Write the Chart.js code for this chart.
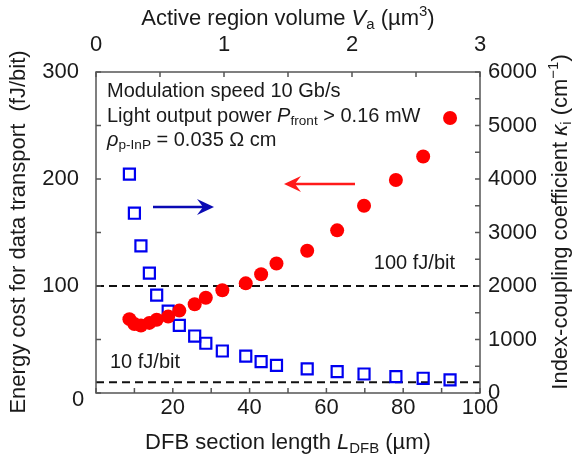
<!DOCTYPE html>
<html>
<head>
<meta charset="utf-8">
<script src="https://cdn.jsdelivr.net/npm/chart.js@4/dist/chart.umd.min.js"></script>
<style>
  html, body { margin: 0; padding: 0; background: #fff; }
</style>
</head>
<body>
<canvas id="chart" width="578" height="461"></canvas>
<script>
// DFB section length (um) for each device
var lengthDFB = [8.7, 10.0, 11.7, 13.9, 15.8, 18.8, 21.7, 25.7, 28.6, 32.9, 39.0, 43.0, 47.0, 55.0, 62.8, 69.8, 78.1, 85.2, 92.2];
// energy cost for data transport (fJ/bit), left axis
var energyCost = [69, 64.5, 63, 65.5, 68.5, 71.5, 77, 83, 89, 96, 102.5, 111, 121, 133, 152, 175, 199, 221, 257];
// index-coupling coefficient (cm^-1), right axis
var kappa = [4090, 3360, 2750, 2240, 1830, 1530, 1265, 1065, 930, 785, 690, 585, 515, 450, 400, 355, 305, 275, 245];
// reference energy levels (fJ/bit)
var refLevels = [100, 10];
var refNames = ['100 fJ/bit', '10 fJ/bit'];

var FONT = 'Arial, "Liberation Sans", sans-serif';
var INK = '#1a1a1a';

function pts(xs, ys) {
  var out = [];
  for (var i = 0; i < xs.length; i++) out.push({x: xs[i], y: ys[i]});
  return out;
}

// draws text made of pieces: [text, style] with style '', 'i', 'sub', 'sup', 'isub'
function richWidth(ctx, parts, size) {
  var w = 0;
  parts.forEach(function(p) {
    var st = p[1] || '';
    var s = (st.indexOf('sub') >= 0 || st === 'sup') ? size * 0.68 : size;
    ctx.font = (st.charAt(0) === 'i' ? 'italic ' : '') + s + 'px ' + FONT;
    w += ctx.measureText(p[0]).width;
  });
  return w;
}
function richText(ctx, parts, x, y, size, align) {
  var w = richWidth(ctx, parts, size);
  var cx = align === 'center' ? x - w / 2 : (align === 'right' ? x - w : x);
  ctx.textBaseline = 'middle';
  ctx.textAlign = 'left';
  parts.forEach(function(p) {
    var st = p[1] || '';
    var small = (st.indexOf('sub') >= 0 || st === 'sup');
    var s = small ? size * 0.68 : size;
    var dy = st.indexOf('sub') >= 0 ? size * 0.28 : (st === 'sup' ? -size * 0.32 : 0);
    ctx.font = (st.charAt(0) === 'i' ? 'italic ' : '') + s + 'px ' + FONT;
    ctx.fillText(p[0], cx, y + dy);
    cx += ctx.measureText(p[0]).width;
  });
}

function arrow(ctx, x1, x2, y, color) {
  var dir = x2 > x1 ? 1 : -1;
  ctx.save();
  ctx.strokeStyle = color;
  ctx.fillStyle = color;
  ctx.lineWidth = 2.5;
  ctx.beginPath();
  ctx.moveTo(x1, y);
  ctx.lineTo(x2 - dir * 6, y);
  ctx.stroke();
  ctx.beginPath();
  ctx.moveTo(x2, y);
  ctx.lineTo(x2 - dir * 17, y - 8);
  ctx.lineTo(x2 - dir * 11, y);
  ctx.lineTo(x2 - dir * 17, y + 8);
  ctx.closePath();
  ctx.fill();
  ctx.restore();
}

var decor = {
  id: 'decor',
  afterDraw: function(chart) {
    var ctx = chart.ctx, a = chart.chartArea, sc = chart.scales;
    ctx.save();
    // frame
    ctx.strokeStyle = '#555';
    ctx.lineWidth = 1.5;
    ctx.strokeRect(a.left, a.top, a.right - a.left, a.bottom - a.top);
    // inward tick marks
    ctx.beginPath();
    sc.x.ticks.forEach(function(t) {
      var p = sc.x.getPixelForValue(t.value);
      ctx.moveTo(p, a.bottom); ctx.lineTo(p, a.bottom - 5);
    });
    sc.x2.ticks.forEach(function(t) {
      var p = sc.x2.getPixelForValue(t.value);
      ctx.moveTo(p, a.top); ctx.lineTo(p, a.top + 5);
    });
    sc.y.ticks.forEach(function(t) {
      var p = sc.y.getPixelForValue(t.value);
      ctx.moveTo(a.left, p); ctx.lineTo(a.left + 5, p);
    });
    sc.y2.ticks.forEach(function(t) {
      var p = sc.y2.getPixelForValue(t.value);
      ctx.moveTo(a.right, p); ctx.lineTo(a.right - 5, p);
    });
    ctx.stroke();

    ctx.fillStyle = INK;
    // shared origin label
    richText(ctx, [['0']], 78, 400, 22, 'center');

    // axis titles
    richText(ctx, [['DFB section length '], ['L', 'i'], ['DFB', 'sub'], [' (\u00b5m)']], 288, 443, 22, 'center');
    richText(ctx, [['Active region volume '], ['V', 'i'], ['a', 'sub'], [' (\u00b5m'], ['3', 'sup'], [')']], 288, 19, 22, 'center');
    ctx.save();
    ctx.translate(19, 232);
    ctx.rotate(-Math.PI / 2);
    richText(ctx, [['Energy cost for data transport  (fJ/bit)']], 0, 0, 22, 'center');
    ctx.restore();
    ctx.save();
    ctx.translate(561, 222);
    ctx.rotate(-Math.PI / 2);
    richText(ctx, [['Index-coupling coefficient '], ['\u03ba', 'i'], ['i', 'sub'], [' (cm'], ['\u22121', 'sup'], [')']], 0, 0, 22, 'center');
    ctx.restore();

    // conditions
    richText(ctx, [['Modulation speed 10 Gb/s']], 107, 91, 20, 'left');
    richText(ctx, [['Light output power '], ['P', 'i'], ['front', 'sub'], [' > 0.16 mW']], 107, 116, 20, 'left');
    richText(ctx, [['\u03c1', 'i'], ['p-InP', 'sub'], [' = 0.035 \u03a9 cm']], 107, 140, 20, 'left');

    // reference level labels
    richText(ctx, [[refNames[0]]], 455, sc.y.getPixelForValue(refLevels[0]) - 23, 20, 'right');
    richText(ctx, [[refNames[1]]], 110, sc.y.getPixelForValue(refLevels[1]) - 20, 20, 'left');

    // which axis each series belongs to
    arrow(ctx, 153, 214, 207, '#0a0ab4');
    arrow(ctx, 355, 284, 184, '#ff1a1a');
    ctx.restore();
  }
};

var refSets = refLevels.map(function(v) {
  return {
    type: 'line',
    data: [{x: 0, y: v}, {x: 100, y: v}],
    yAxisID: 'y',
    borderColor: '#111',
    borderWidth: 2,
    borderDash: [8, 5],
    pointRadius: 0,
    fill: false,
    order: 3
  };
});

function tickOpts(step, pad, cb) {
  return { stepSize: step, padding: pad, color: INK, font: { family: FONT, size: 22 },
    autoSkip: false, maxRotation: 0, minRotation: 0, callback: cb };
}

new Chart(document.getElementById('chart'), {
  type: 'scatter',
  data: {
    datasets: [{
      data: pts(lengthDFB, kappa),
      yAxisID: 'y2',
      pointStyle: 'rect',
      pointRadius: 7.8,
      pointHoverRadius: 7.8,
      borderColor: '#0000f0',
      backgroundColor: 'rgba(0,0,0,0)',
      pointBorderWidth: 2.2,
      order: 2
    }, {
      data: pts(lengthDFB, energyCost),
      yAxisID: 'y',
      pointStyle: 'circle',
      pointRadius: 7,
      pointHoverRadius: 7,
      borderColor: '#ff0000',
      backgroundColor: '#ff0000',
      pointBorderWidth: 0,
      order: 1
    }].concat(refSets)
  },
  options: {
    responsive: false,
    animation: false,
    devicePixelRatio: 1,
    layout: { padding: 0 },
    plugins: { legend: { display: false }, tooltip: { enabled: false } },
    scales: {
      x: {
        type: 'linear', position: 'bottom', min: 0, max: 100,
        grid: { display: false, drawTicks: false }, border: { display: false },
        ticks: tickOpts(10, 2, function(v) { return (v % 20 === 0 && v !== 0) ? v : ''; }),
        afterFit: function(s) { s.height = 68; }
      },
      x2: {
        type: 'linear', position: 'top', min: 0, max: 3,
        grid: { display: false, drawTicks: false }, border: { display: false },
        ticks: tickOpts(0.5, 14, function(v) { return Number.isInteger(v) ? v : ''; }),
        afterFit: function(s) { s.height = 72; }
      },
      y: {
        type: 'linear', position: 'left', min: 0, max: 300,
        grid: { display: false, drawTicks: false }, border: { display: false },
        ticks: tickOpts(50, 17, function(v) { return (v % 100 === 0 && v !== 0) ? v : ''; }),
        afterFit: function(s) { s.width = 96; }
      },
      y2: {
        type: 'linear', position: 'right', min: 0, max: 6000,
        grid: { display: false, drawTicks: false }, border: { display: false },
        ticks: tickOpts(500, 8, function(v) { return v % 1000 === 0 ? v : ''; }),
        afterFit: function(s) { s.width = 98; }
      }
    }
  },
  plugins: [decor]
});
</script>
</body>
</html>
